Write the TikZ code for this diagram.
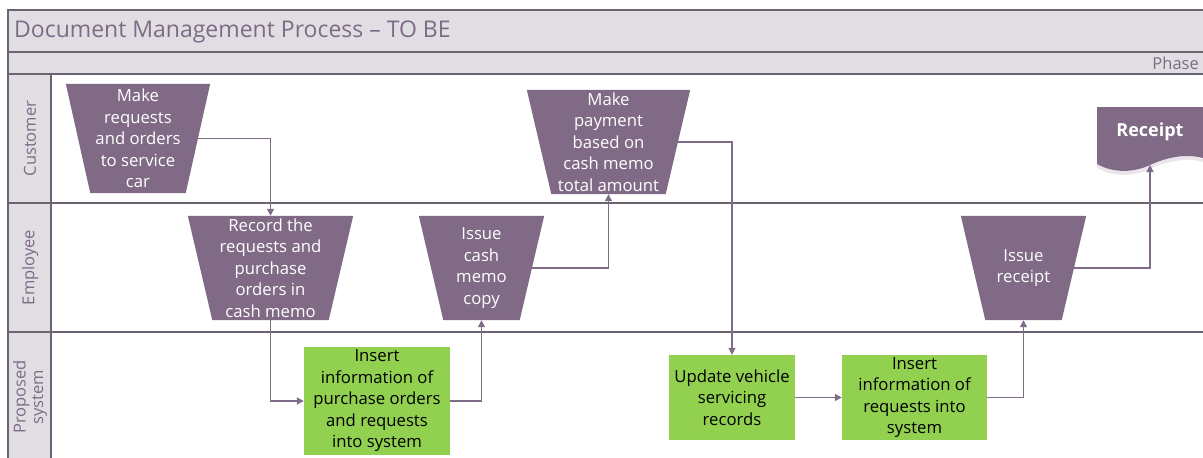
\documentclass[tikz,border=0pt]{standalone}
\usepackage{fontspec}
\setmainfont{Open Sans}
\usetikzlibrary{arrows.meta,calc}

\definecolor{bandfill}{RGB}{225,222,227}
\definecolor{frameline}{RGB}{108,99,113}
\definecolor{lanetext}{RGB}{125,107,133}
\definecolor{stepcol}{RGB}{128,106,134}
\definecolor{conncol}{RGB}{126,108,136}
\definecolor{syscol}{RGB}{146,208,80}
\definecolor{docshade}{RGB}{234,230,236}

\pgfdeclarelayer{shapes}
\pgfsetlayers{shapes,main}

\tikzset{
  frame/.style={draw=frameline, line width=1.5pt},
  band/.style={fill=bandfill},
  lanelabel/.style={text=lanetext, font=\fontsize{16.5}{17.5}\selectfont, rotate=90, align=center, inner sep=0pt},
  stepnode/.style={rectangle, inner sep=0pt, align=center, text=white,
    font=\fontsize{16.7}{21.5}\selectfont},
  stepfill/.style={fill=stepcol},
  sysbox/.style={rectangle, fill=syscol, inner sep=0pt, align=center, text=black,
    font=\fontsize{16.7}{21.5}\selectfont},
  conn/.style={draw=conncol, line width=1.2pt, -{Triangle[width=7pt,length=7pt]}},
}

% Manual process step: inverted trapezium behind a named node
% #1 name, #2 x, #3 y, #4 top width, #5 height, #6 text
\newcommand\procstep[6]{%
  \node[stepnode, minimum width=#4pt, minimum height=#5pt] (#1) at (#2,#3) {#6};
  \begin{pgfonlayer}{shapes}
    \fill[stepfill] (#1.north west) -- (#1.north east)
      -- ([xshift=-24.5pt]#1.south east) -- ([xshift=24.5pt]#1.south west) -- cycle;
  \end{pgfonlayer}}

\begin{document}
\begin{tikzpicture}[x=1pt, y=-1pt]
\useasboundingbox (0,0) rectangle (1203,458);
\clip (0,0) rectangle (1203,458);

% pool header bands and lane header column
\fill[band] (8,10) rectangle (1215,74);
\fill[band] (8,74) rectangle (51,470);
\draw[frame] (1215,10) -- (8,10) -- (8,470);
\draw[frame] (8,52) -- (1215,52);
\draw[frame] (8,74) -- (1215,74);
\draw[frame] (8,203) -- (1215,203);
\draw[frame] (8,332) -- (1215,332);
\draw[frame] (51,74) -- (51,470);

\node[anchor=west, text=lanetext, font=\fontsize{23}{25}\selectfont, inner sep=0pt]
  (title) at (14,32) {Document Management Process – TO BE};
\node[anchor=east, text=lanetext, font=\fontsize{16.5}{17}\selectfont, inner sep=0pt]
  (phase) at (1199,63.5) {Phase};

\node[lanelabel] (lcust) at (30,138.5) {Customer};
\node[lanelabel] (lemp) at (30,267.5) {Employee};
\node[lanelabel] (lsys) at (30,397) {Proposed\\system};

% manual steps
\procstep{makereq}{138}{138.5}{144}{109}{Make\\requests\\and orders\\to service\\car}
\procstep{record}{270.5}{268}{165}{104}{Record the\\requests and\\purchase\\orders in\\cash memo}
\procstep{issuememo}{481.5}{268}{125}{104}{Issue\\cash\\memo\\copy}
\procstep{payment}{608.5}{142}{163}{104}{Make\\payment\\based on\\cash memo\\total amount}
\procstep{issuercpt}{1023.5}{268}{125}{104}{Issue\\receipt}

% system steps
\node[sysbox, minimum width=146pt, minimum height=108pt] (inserta) at (377,401)
  {Insert\\information of\\purchase orders\\and requests\\into system};
\node[sysbox, minimum width=126pt, minimum height=85pt] (update) at (732,397.5)
  {Update vehicle\\servicing\\records};
\node[sysbox, minimum width=145pt, minimum height=85pt] (insertb) at (914.5,397.5)
  {Insert\\information of\\requests into\\system};

% receipt document
\fill[docshade] (1097,107) -- (1215,107) -- (1215,162)
  -- (1203,162) .. controls (1185,157) and (1165,162) .. (1150,169)
  .. controls (1135,176) and (1115,178) .. (1097,168) -- cycle;
\fill[stepcol] (1097,107) -- (1215,107) -- (1215,158)
  -- (1203,158) .. controls (1185,153) and (1165,158) .. (1150,165)
  .. controls (1135,172) and (1115,174) .. (1097,164) -- cycle;
\node[text=white, font=\bfseries\fontsize{18}{19}\selectfont, inner sep=0pt]
  (receipt) at (1150,132) {Receipt};
\coordinate (rcptin) at (1150,165);

% flow
\draw[conn] ([xshift=-12.5pt]makereq.east) -| (record.north);
\draw[conn] (record.south) |- (inserta.west);
\draw[conn] (inserta.east) -| (issuememo.south);
\draw[conn] ([xshift=-12pt]issuememo.east) -| (payment.south);
\draw[conn] ([xshift=-12pt]payment.east) -| (update.north);
\draw[conn] (update.east) -- (insertb.west);
\draw[conn] (insertb.east) -| (issuercpt.south);
\draw[conn] ([xshift=-12pt]issuercpt.east) -| (rcptin);
\end{tikzpicture}
\end{document}
